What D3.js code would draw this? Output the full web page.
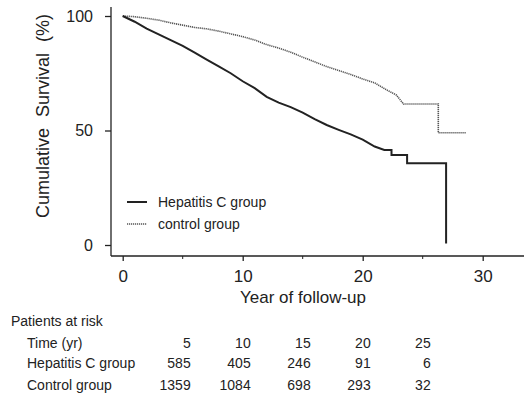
<!DOCTYPE html>
<html>
<head>
<meta charset="utf-8">
<script src="https://cdn.jsdelivr.net/npm/d3@7"></script>
<style>
  body { margin: 0; background: #fff; }
  svg { display: block; font-family: "Liberation Sans", Arial, sans-serif; }
</style>
</head>
<body>
<div id="chart"></div>
<script>
// Kaplan-Meier estimates (years, % surviving);
// repeated times mark the visible drops in the sparse tail
const hepTime = [0, 1, 2, 3, 4, 5, 6, 7, 8, 9, 10, 11, 12, 13, 14, 15, 16, 17, 18, 19, 20, 21, 21.8, 22.4, 22.4, 23.7, 23.7, 26.95, 26.95];
const hepSurv = [100, 97.5, 94.5, 92, 89.5, 87, 84, 81, 78, 75, 71.5, 68.5, 64.7, 62.2, 60.2, 57.8, 55, 52.4, 50.3, 48.3, 46, 43, 41.5, 41.5, 39.3, 39.3, 35.7, 35.7, 0.7];

const ctlTime = [0, 1, 2, 3, 4, 5, 6, 7, 8, 9, 10, 11, 12, 13, 14, 15, 16, 17, 18, 19, 20, 21, 22, 22.8, 23.4, 26.3, 26.3, 28.6];
const ctlSurv = [100, 99.7, 99, 98.2, 97, 96, 95, 94.4, 93.4, 92.2, 91, 89.5, 87.5, 86, 84.2, 82, 80, 77.9, 76.2, 74.5, 72.5, 70.8, 67.7, 65.5, 61.6, 61.6, 49, 49];

const xTicks = [0, 10, 20, 30];
const xMinor = [5, 15, 25];
const yTicks = [0, 50, 100];

// numbers at risk table
const riskTimes = [5, 10, 15, 20, 25];
const riskHep = [585, 405, 246, 91, 6];
const riskCtl = [1359, 1084, 698, 293, 32];
const groupNames = ['Hepatitis C group', 'control group'];

const width = 524, height = 397;

const svg = d3.select('#chart').append('svg')
    .attr('width', width)
    .attr('height', height);

const x = d3.scaleLinear().domain([0, 30]).range([122.7, 482.7]);
const y = d3.scaleLinear().domain([0, 100]).range([245, 16]);

const ink = '#222';
const grey = '#555';

// y axis
const yAxis = svg.append('g')
    .attr('transform', 'translate(111,0)')
    .call(d3.axisLeft(y).tickValues(yTicks).tickSize(6).tickPadding(12));
yAxis.select('.domain').remove();
yAxis.append('line')
    .attr('x1', 0).attr('x2', 0)
    .attr('y1', 7).attr('y2', 256)
    .attr('stroke', ink).attr('stroke-width', 1.3);
yAxis.selectAll('line').attr('stroke', ink).attr('stroke-width', 1.3);
yAxis.selectAll('text')
    .attr('fill', ink)
    .style('font-size', '16px')
    .style('font-family', '"Liberation Sans", Arial, sans-serif');

// x axis
const xAxis = svg.append('g')
    .attr('transform', 'translate(0,256)')
    .call(d3.axisBottom(x).tickValues(xTicks).tickSize(5).tickPadding(9));
xAxis.select('.domain').remove();
xAxis.append('line')
    .attr('x1', 111).attr('x2', width)
    .attr('y1', 0).attr('y2', 0)
    .attr('stroke', ink).attr('stroke-width', 1.3);
xAxis.selectAll('line').attr('stroke', ink).attr('stroke-width', 1.3);
xAxis.selectAll('.minor')
    .data(xMinor)
    .enter().append('line')
    .attr('x1', d => x(d)).attr('x2', d => x(d))
    .attr('y1', 0).attr('y2', 3)
    .attr('stroke', ink).attr('stroke-width', 1);
xAxis.selectAll('text')
    .attr('fill', ink)
    .style('font-size', '17px')
    .style('font-family', '"Liberation Sans", Arial, sans-serif');

// axis titles
svg.append('text')
    .attr('transform', 'translate(49,116) rotate(-90)')
    .attr('text-anchor', 'middle')
    .attr('fill', ink)
    .style('font-size', '18px')
    .style('word-spacing', '6px')
    .text('Cumulative Survival (%)');

svg.append('text')
    .attr('x', 303)
    .attr('y', 303)
    .attr('text-anchor', 'middle')
    .attr('fill', ink)
    .style('font-size', '17px')
    .text('Year of follow-up');

// survival curves
const line = d3.line()
    .x(d => x(d[0]))
    .y(d => y(d[1]));

const ctlData = d3.zip(ctlTime, ctlSurv);
const hepData = d3.zip(hepTime, hepSurv);

svg.append('path')
    .datum(ctlData)
    .attr('d', line)
    .attr('fill', 'none')
    .attr('stroke', grey)
    .attr('stroke-width', 1.6)
    .attr('stroke-dasharray', '1.2,0.8');

svg.append('path')
    .datum(hepData)
    .attr('d', line)
    .attr('fill', 'none')
    .attr('stroke', ink)
    .attr('stroke-width', 2);

// legend
const legend = svg.append('g');
const legendStyles = [
    { stroke: ink, width: 2, dash: null, y: 202 },
    { stroke: grey, width: 1.4, dash: '1.2,0.8', y: 224 }
];
legendStyles.forEach((s, i) => {
    legend.append('line')
        .attr('x1', 127).attr('x2', 147)
        .attr('y1', s.y).attr('y2', s.y)
        .attr('stroke', s.stroke)
        .attr('stroke-width', s.width)
        .attr('stroke-dasharray', s.dash);
    legend.append('text')
        .attr('x', 158)
        .attr('y', s.y)
        .attr('dy', '0.35em')
        .attr('fill', ink)
        .style('font-size', '14px')
        .text(groupNames[i]);
});

// patients at risk table
const table = svg.append('g')
    .style('font-size', '14px')
    .attr('fill', ink);

table.append('text').attr('x', 11).attr('y', 321).attr('dy', '0.35em')
    .text('Patients at risk');

const rows = [
    { label: 'Time (yr)', vals: riskTimes, y: 343 },
    { label: 'Hepatitis C group', vals: riskHep, y: 363.5 },
    { label: 'Control group', vals: riskCtl, y: 385 }
];

rows.forEach(r => {
    table.append('text').attr('x', 27).attr('y', r.y).attr('dy', '0.35em')
        .text(r.label);
    table.selectAll(null)
        .data(r.vals)
        .enter().append('text')
        .attr('x', (d, i) => x(riskTimes[i]) + 8)
        .attr('y', r.y)
        .attr('dy', '0.35em')
        .attr('text-anchor', 'end')
        .text(d => d);
});
</script>
</body>
</html>
